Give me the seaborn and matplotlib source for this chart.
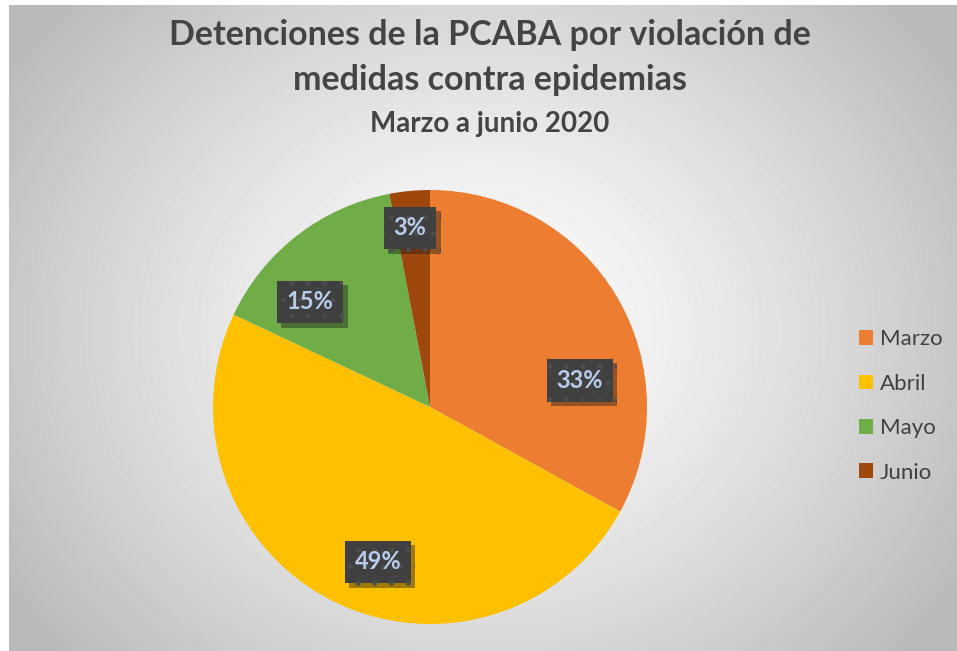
import numpy as np
import matplotlib
matplotlib.use("Agg")
import matplotlib.pyplot as plt
import matplotlib.patheffects as pe
import seaborn as sns

# datos
meses = ["Marzo", "Abril", "Mayo", "Junio"]
porcentajes = [33, 49, 15, 3]
colores = ["#ED7D31", "#FFC000", "#70AD47", "#9E480E"]

titulo = ["Detenciones de la PCABA por violación de", "medidas contra epidemias"]
subtitulo = "Marzo a junio 2020"

# posiciones de las etiquetas (en radios, relativo al centro)
pos_etiquetas = [(0.69, 0.124), (-0.24, -0.714), (-0.553, 0.484), (-0.092, 0.825)]

sns.set_theme(style="white")
plt.rcParams["font.family"] = ["Lato", "DejaVu Sans"]

W, H = 957, 651
fig = plt.figure(figsize=(W / 100, H / 100), dpi=100)
fig.patch.set_facecolor("white")

# fondo con degradado radial
bg = fig.add_axes([9 / W, 0, 1 - 9 / W, 1 - 5 / H])
yy, xx = np.mgrid[5:H, 9:W]
d = np.hypot(xx - 480, (yy - 330) * 1.15)
g = 1 - 0.27 * np.clip(d / 560, 0, 1) ** 1.3
bg.imshow(g, cmap="gray", vmin=0, vmax=1, aspect="auto", interpolation="bilinear")
bg.set_axis_off()

# pastel
cx, cy, r = 430, 407, 217
ax = fig.add_axes([(cx - r) / W, (H - cy - r) / H, 2 * r / W, 2 * r / H])
wedges, _, autotexts = ax.pie(
    porcentajes,
    colors=colores,
    startangle=90,
    counterclock=False,
    autopct="%1.0f%%",
    radius=1,
    wedgeprops={"linewidth": 0},
    textprops={"fontsize": 17, "fontweight": "bold", "color": "#B8CCEC"},
)
ax.set_xlim(-1, 1)
ax.set_ylim(-1, 1)
ax.set_aspect("equal")
ax.set_axis_off()

for t, (px, py) in zip(autotexts, pos_etiquetas):
    t.set_position((px, py))
    t.set_bbox(dict(boxstyle="square,pad=0.42", facecolor="#404040",
                    edgecolor="#4d4d4d", linewidth=0, hatch="."))
    t.get_bbox_patch().set_path_effects(
        [pe.SimplePatchShadow(offset=(3, -3), alpha=0.4), pe.Normal()])

# titulos
fig.text(490 / W, 1 - 35 / H, titulo[0], ha="center", va="center", fontsize=24.5,
         fontweight="bold", color="#444444")
fig.text(490 / W, 1 - 80 / H, titulo[1], ha="center", va="center", fontsize=24.5,
         fontweight="bold", color="#444444")
fig.text(490 / W, 1 - 124 / H, subtitulo, ha="center", va="center", fontsize=20,
         fontweight="bold", color="#444444")

# leyenda
fig.legend(wedges, meses, loc="center left", bbox_to_anchor=(859 / W, 1 - 406 / H),
           frameon=False, fontsize=16, labelcolor="#404040", handlelength=0.65,
           handleheight=0.65, handletextpad=0.3, labelspacing=1.1,
           borderpad=0, borderaxespad=0)

fig.savefig("out.png", dpi=100)
